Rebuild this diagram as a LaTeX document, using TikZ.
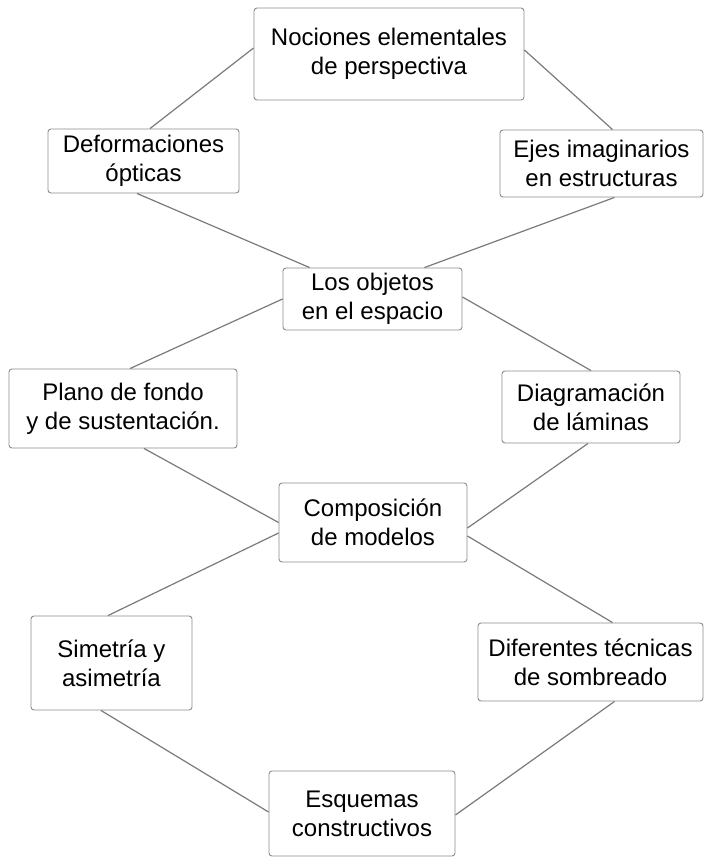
\documentclass[tikz,border=0pt]{standalone}
\usepackage{fontspec}
\setmainfont{Liberation Sans}
\definecolor{boxgray}{HTML}{8C8C8C}
\definecolor{linegray}{HTML}{7A7A7A}
\begin{document}
\begin{tikzpicture}[x=1pt, y=-1pt,
      topic/.style = {draw=boxgray, line width=0.9pt, rounded corners=3pt,
                      fill=white, align=center, inner sep=0pt,
                      font=\fontsize{24}{29}\selectfont},
      link/.style = {draw=linegray, line width=1.2pt}]
    \useasboundingbox (0,0) rectangle (704,857);

    % nodes
    \node[topic, minimum width=270pt, minimum height=92pt] (noc) at (389,54)
      {Nociones elementales\\de perspectiva};
    \node[topic, minimum width=191pt, minimum height=64pt] (dfo) at (143.5,161)
      {Deformaciones\\ópticas};
    \node[topic, minimum width=203pt, minimum height=67pt] (eje) at (601.5,163.5)
      {Ejes imaginarios\\en estructuras};
    \node[topic, minimum width=179pt, minimum height=62pt] (obj) at (372.5,299)
      {Los objetos\\en el espacio};
    \node[topic, minimum width=228pt, minimum height=79pt] (pla) at (123,408.5)
      {Plano de fondo\\y de sustentación.};
    \node[topic, minimum width=178pt, minimum height=72pt] (dia) at (591,407)
      {Diagramación\\de láminas};
    \node[topic, minimum width=188pt, minimum height=79pt] (com) at (373,522.5)
      {Composición\\de modelos};
    \node[topic, minimum width=161pt, minimum height=94pt] (sim) at (111.5,663)
      {Simetría y\\asimetría};
    \node[topic, minimum width=225pt, minimum height=78pt] (dif) at (590.5,662)
      {Diferentes técnicas\\de sombreado};
    \node[topic, minimum width=186pt, minimum height=85pt] (esq) at (362,813.5)
      {Esquemas\\constructivos};

    % connectors
    \draw[link] ([yshift=6pt]noc.west) -- ([xshift=6.5pt]dfo.north);
    \draw[link] ([yshift=4pt]noc.east) -- ([xshift=11pt]eje.north);
    \draw[link] ([xshift=-6.5pt]dfo.south) -- ([xshift=27pt]obj.north west);
    \draw[link] ([xshift=13pt]eje.south) -- ([xshift=-38pt]obj.north east);
    \draw[link] (obj.west) -- ([xshift=7pt]pla.north);
    \draw[link] ([yshift=2pt]obj.east) -- (dia.north);
    \draw[link] ([xshift=21pt]pla.south) -- (com.west);
    \draw[link] ([xshift=-3pt]dia.south) -- ([yshift=-5.5pt]com.east);
    \draw[link] ([yshift=-10.5pt]com.west) -- ([xshift=-3.5pt]sim.north);
    \draw[link] ([yshift=-13.5pt]com.east) -- ([xshift=22pt]dif.north);
    \draw[link] ([xshift=-10.5pt]sim.south) -- ([yshift=1.5pt]esq.west);
    \draw[link] ([xshift=24pt]dif.south) -- ([yshift=-1.5pt]esq.east);
\end{tikzpicture}
\end{document}
